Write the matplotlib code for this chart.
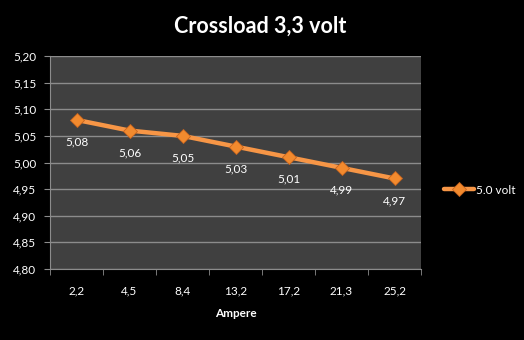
import matplotlib
matplotlib.use("Agg")
import matplotlib.pyplot as plt
from matplotlib.ticker import FixedLocator

categories = ["2,2", "4,5", "8,4", "13,2", "17,2", "21,3", "25,2"]
values = [5.08, 5.06, 5.05, 5.03, 5.01, 4.99, 4.97]
series_name = "5.0 volt"
title = "Crossload 3,3 volt"
xlabel = "Ampere"
yticks = [4.80, 4.85, 4.90, 4.95, 5.00, 5.05, 5.10, 5.15, 5.20]

plt.rcParams['font.family'] = ['Lato', 'DejaVu Sans']

fig = plt.figure(figsize=(5.24, 3.4), dpi=100, facecolor='black')
ax = fig.add_axes([50/524, 1-269/340, (421-50)/524, (269-56)/340])
ax.set_facecolor('#404040')

x = list(range(len(categories)))
orange = '#F79646'
ax.plot(x, values, color=orange, lw=3.2, marker='D', ms=7.5,
        markerfacecolor='#F28A2E', markeredgecolor='#C8641E', markeredgewidth=0.6,
        label=series_name, zorder=3, solid_capstyle='round')
for xi, v in zip(x, values):
    ax.annotate(f"{v:.2f}".replace('.', ','), (xi, v), xytext=(0, -16),
                textcoords='offset points', ha='center', va='center',
                color='white', fontsize=8.5)

ax.set_xlim(-0.5, len(categories) - 0.5)
ax.set_ylim(4.80, 5.20)
ax.yaxis.set_major_locator(FixedLocator(yticks))
ax.set_yticklabels([f"{t:.2f}".replace('.', ',') for t in yticks], color='white', fontsize=8.5)
ax.grid(axis='y', color='#8c8c8c', lw=1)
ax.set_axisbelow(True)

ax.set_xticks(x)
ax.set_xticklabels(categories, color='white', fontsize=8.5)
ax.xaxis.set_minor_locator(FixedLocator([i - 0.5 for i in range(len(categories) + 1)]))
ax.tick_params(axis='x', which='major', length=0, pad=12)
ax.tick_params(axis='x', which='minor', length=4, color='#8c8c8c')
ax.tick_params(axis='y', length=4, color='#8c8c8c', pad=6)
for s in ['top', 'right']:
    ax.spines[s].set_visible(False)
for s in ['left', 'bottom']:
    ax.spines[s].set_color('#8c8c8c')

ax.set_xlabel(xlabel, color='white', fontsize=8.5, fontweight='bold', labelpad=8)

fig.text(0.497, 1-26/340, title, ha='center', va='center', color='white',
         fontsize=15.5, fontweight='bold')

leg = fig.legend(loc='center left', bbox_to_anchor=(433/524, 1-190/340), frameon=False,
                 fontsize=8.5, labelcolor='white', handlelength=2.6, handletextpad=0.1)

fig.savefig("out.png", dpi=100, facecolor='black')
